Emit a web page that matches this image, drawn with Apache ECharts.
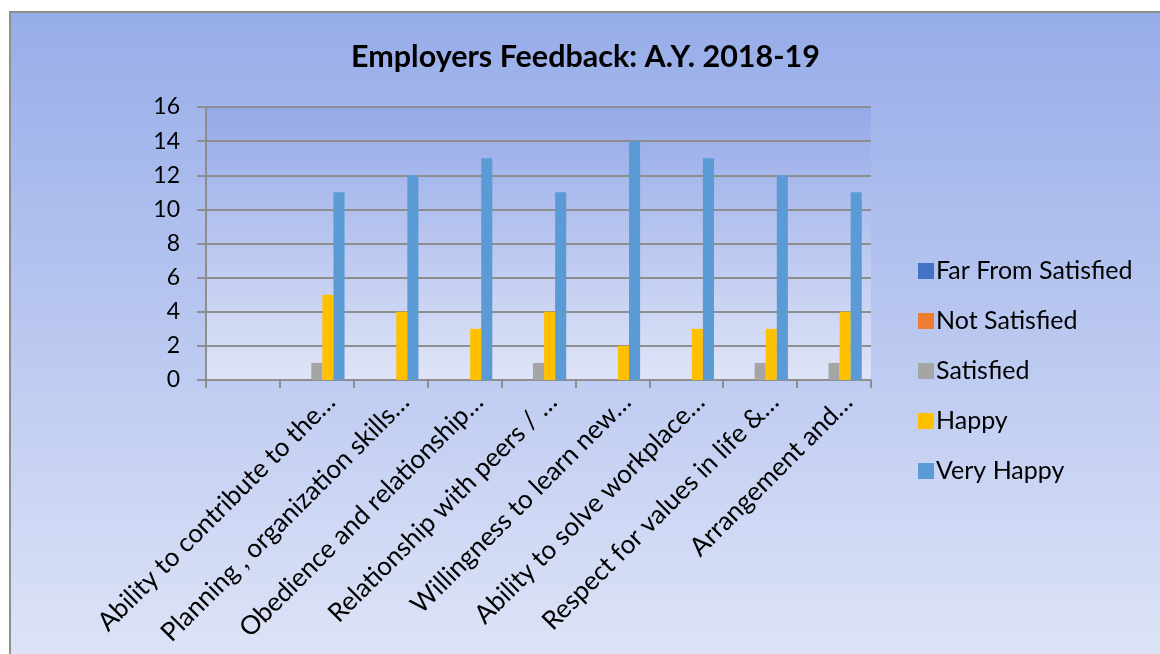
<!DOCTYPE html>
<html>
<head>
<meta charset="utf-8">
<title>Employers Feedback: A.Y. 2018-19</title>
<script src="https://cdn.jsdelivr.net/npm/echarts@6/dist/echarts.min.js"></script>
<style>
  html, body { margin: 0; padding: 0; background: #ffffff; }
  #chart {
    position: absolute;
    left: 9px;
    top: 11px;
    width: 1149px;
    height: 641px;
    border-left: 2px solid #8f8f8f;
    border-top: 2px solid #8f8f8f;
    background: linear-gradient(to bottom, #97ade9 0%, #dde3f7 100%);
  }
</style>
</head>
<body>
<div id="chart"></div>
<script>
// first slot is empty in the original sheet
const categories = [
  '',
  'Ability to contribute to the…',
  'Planning , organization skills…',
  'Obedience and relationship…',
  'Relationship with peers / …',
  'Willingness to learn new…',
  'Ability to solve workplace…',
  'Respect for values in life &…',
  'Arrangement and…'
];

const farFromSatisfied = [0, 0, 0, 0, 0, 0, 0, 0, 0];
const notSatisfied     = [0, 0, 0, 0, 0, 0, 0, 0, 0];
const satisfied        = [0, 1, 0, 0, 1, 0, 0, 1, 1];
const happy            = [0, 5, 4, 3, 4, 2, 3, 3, 4];
const veryHappy        = [0, 11, 12, 13, 11, 14, 13, 12, 11];

const yTicks = { min: 0, max: 16, interval: 2 };

const seriesNames = ['Far From Satisfied', 'Not Satisfied', 'Satisfied', 'Happy', 'Very Happy'];
const seriesData = [farFromSatisfied, notSatisfied, satisfied, happy, veryHappy];
const colors = ['#4472c4', '#ed7d31', '#a5a5a5', '#ffc000', '#5b9bd5'];

const font = 'Lato, "Open Sans", sans-serif';
const gridGray = '#8e8e8e';

const chart = echarts.init(document.getElementById('chart'), null, { renderer: 'canvas' });

const option = {
  color: colors,
  animation: false,
  textStyle: { fontFamily: font },
  title: {
    text: 'Employers Feedback: A.Y. 2018-19',
    left: 'center',
    top: 22,
    textStyle: {
      fontFamily: font,
      fontSize: 30.5,
      fontWeight: 'bold',
      color: '#000000',
      lineHeight: 34
    }
  },
  legend: {
    orient: 'vertical',
    left: 902,
    top: 240,
    itemWidth: 16,
    itemHeight: 16,
    itemGap: 24,
    icon: 'rect',
    data: seriesNames,
    textStyle: {
      fontFamily: font,
      fontSize: 25,
      color: '#000000',
      lineHeight: 26,
      padding: [0, 0, 0, -3]
    }
  },
  grid: {
    left: 195,
    right: 289,
    top: 94,
    bottom: 274,
    show: true,
    borderWidth: 0,
    backgroundColor: new echarts.graphic.LinearGradient(0, 0, 0, 1, [
      { offset: 0, color: '#94a9e8' },
      { offset: 1, color: '#dfe4f7' }
    ])
  },
  xAxis: {
    type: 'category',
    data: categories,
    boundaryGap: true,
    axisLine: { show: true, lineStyle: { color: gridGray, width: 2 } },
    axisTick: { show: true, interval: 0, length: 8, lineStyle: { color: gridGray, width: 2 } },
    axisLabel: {
      interval: 0,
      rotate: 45,
      margin: 32,
      padding: [0, -20, 0, 0],
      fontFamily: font,
      fontSize: 26,
      color: '#000000'
    }
  },
  yAxis: {
    type: 'value',
    min: yTicks.min,
    max: yTicks.max,
    interval: yTicks.interval,
    axisLine: { show: true, lineStyle: { color: gridGray, width: 2 } },
    axisTick: { show: true, length: 9, lineStyle: { color: gridGray, width: 2 } },
    splitLine: { show: true, lineStyle: { color: gridGray, width: 2 } },
    axisLabel: {
      margin: 26,
      fontFamily: font,
      fontSize: 23,
      color: '#000000'
    }
  },
  series: seriesNames.map((name, i) => ({
    name,
    type: 'bar',
    data: seriesData[i],
    barGap: '0%',
    barCategoryGap: '25%'
  }))
};

chart.setOption(option);
</script>
</body>
</html>
